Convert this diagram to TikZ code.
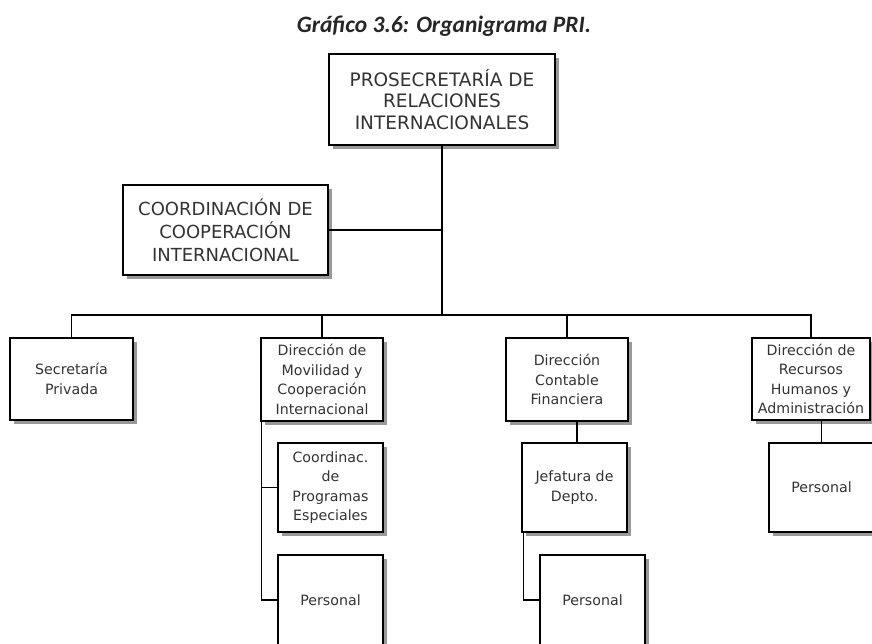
\documentclass[tikz,border=0pt]{standalone}
\usepackage{fontspec}
\setmainfont{DejaVu Sans}
\newfontfamily\titlefont{Carlito}
\usetikzlibrary{positioning, shadows}

\tikzset{
  unit/.style={draw=black, line width=1.2pt, fill=white, inner sep=0pt, align=center, text=black!80,
    drop shadow={shadow xshift=4pt, shadow yshift=-4pt, fill=black!40, opacity=1}},
  bigunit/.style={unit, font=\fontsize{18.5}{21.5}\selectfont},
  smallunit/.style={unit, font=\fontsize{14.2}{19.5}\selectfont},
  link/.style={line width=1.2pt}
}

\begin{document}
\begin{tikzpicture}[x=1pt, y=-1pt]
    % Frame
    \clip (0,0) rectangle (872,643);
    \fill[white] (0,0) rectangle (872,643);

    % Title
    \node[font=\titlefont\bfseries\itshape\fontsize{23.5}{26}\selectfont, text=black!85] (title) at (444,26) {Gráfico 3.6: Organigrama PRI.};

    % Head and staff unit
    \node[bigunit, minimum width=226pt, minimum height=91pt] (prosec) at (442,99.5) {PROSECRETARÍA DE\\RELACIONES\\INTERNACIONALES};
    \node[bigunit, font=\fontsize{18}{23}\selectfont, minimum width=205pt, minimum height=90pt] (coord) at (225.5,230) {COORDINACIÓN DE\\COOPERACIÓN\\INTERNACIONAL};

    % Second level
    \node[smallunit, minimum width=123pt, minimum height=82pt] (secre) at (71.5,379) {Secretaría\\Privada};
    \node[smallunit, minimum width=122pt, minimum height=83pt] (movil) at (322,379.5) {Dirección de\\Movilidad y\\Cooperación\\Internacional};
    \node[smallunit, minimum width=122pt, minimum height=83pt] (conta) at (567,379.5) {Dirección\\Contable\\Financiera};
    \node[smallunit, minimum width=118pt, minimum height=82pt] (rrhh) at (811,379) {Dirección de\\Recursos\\Humanos y\\Administración};

    % Third level
    \node[smallunit, minimum width=105pt, minimum height=89pt] (progr) at (330.5,487.5) {Coordinac.\\de\\Programas\\Especiales};
    \node[smallunit, minimum width=105pt, minimum height=90pt] (persmov) at (330.5,600) {Personal};
    \node[smallunit, minimum width=105pt, minimum height=89pt] (jefat) at (574.5,487.5) {Jefatura de\\Depto.};
    \node[smallunit, minimum width=105pt, minimum height=90pt] (perscon) at (592.5,600) {Personal};
    \node[smallunit, minimum width=105pt, minimum height=89pt] (persrh) at (821.5,487.5) {Personal};

    % Connectors
    \coordinate (bus) at (prosec.south |- 0,315);
    \draw[link] (prosec.south) -- (bus);
    \draw[link] (coord.east) -- (coord.east -| prosec.south);
    \draw[link] (secre.north) |- (bus) -| (rrhh.north);
    \draw[link] (movil.north) -- (movil.north |- bus);
    \draw[link] (conta.north) -- (conta.north |- bus);

    \coordinate (movtrunk) at ([xshift=1pt]movil.south west);
    \draw[link] (movtrunk) |- (persmov.west);
    \draw[link] (progr.west) -- (progr.west -| movtrunk);

    \draw[link] ([xshift=2.5pt]jefat.north) -- ([xshift=2.5pt]jefat.north |- conta.south);
    \coordinate (jeftrunk) at ([xshift=2pt]jefat.south west);
    \draw[link] (jeftrunk) |- (perscon.west);

    \draw[link] (persrh.north) -- (persrh.north |- rrhh.south);
\end{tikzpicture}
\end{document}
